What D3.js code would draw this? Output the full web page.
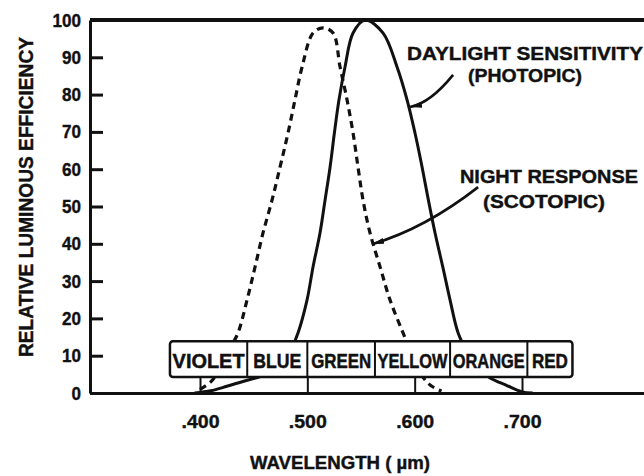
<!DOCTYPE html>
<html><head><meta charset="utf-8">
<script src="https://cdn.jsdelivr.net/npm/d3@7"></script>
<style>
body{margin:0;background:#fff}
text{font-family:"Liberation Sans",Arial,sans-serif;font-weight:bold;fill:#111;stroke:#111;stroke-width:0.4px}
</style>
</head><body>
<svg id="c" width="644" height="476"></svg>
<script>
// ---- data (wavelength in µm, relative luminous efficiency in %) ----
const photopicWl  = [0.395,0.410,0.425,0.440,0.456,0.470,0.482,0.4913,0.4997,0.5053,0.5118,0.5165,0.5212,0.5252,0.5295,0.5351,0.5426,0.5538,0.5706,0.5836,0.5929,0.6003,0.6069,0.6128,0.6190,0.6262,0.6330,0.6405,0.650,0.660,0.670,0.686,0.700,0.710];
const photopicVal = [0,0.6,1.8,3.1,4.4,6.5,10,16.1,24.9,33.8,42.9,51.7,60.6,69.7,78.6,87.4,96.5,100,96.5,87.4,78.6,69.7,60.6,51.7,42.9,33.8,24.9,16.1,10.5,6.5,4.1,2,0.3,0];
const scotopicWl  = [0.400,0.410,0.420,0.428,0.4354,0.4438,0.4513,0.4587,0.4671,0.4746,0.4820,0.4885,0.4951,0.5053,0.5146,0.5240,0.5305,0.5370,0.5426,0.5472,0.5519,0.5584,0.5678,0.5771,0.5892,0.598,0.606,0.615,0.625];
const scotopicVal = [1,3,7,12,16.1,24.9,33.8,42.9,51.7,60.6,69.7,78.6,87.4,96.5,97.9,96.5,87.4,78.6,69.7,60.6,51.7,42.9,33.8,24.9,16.1,10,5,2,0.5];
const bandNames = ["VIOLET","BLUE","GREEN","YELLOW","ORANGE","RED"];
const bandEdges = [0.372,0.444,0.500,0.563,0.633,0.705,0.747];
const xTicks = [0.4,0.5,0.6,0.7];
const yTicks = [0,10,20,30,40,50,60,70,80,90,100];
const yTitle = "RELATIVE LUMINOUS EFFICIENCY";
const xTitle = "WAVELENGTH ( µm)";
const photopicLabel = ["DAYLIGHT SENSITIVITY","(PHOTOPIC)"];
const scotopicLabel = ["NIGHT RESPONSE","(SCOTOPIC)"];

// ---- layout ----
const ink = "#111";
const svg = d3.select("#c");
const x = d3.scaleLinear().domain([0.4,0.7]).range([200,522]);
const y = d3.scaleLinear().domain([0,100]).range([393,20]);
const left = 90, right = 644;

svg.append("defs").append("marker")
  .attr("id","ah").attr("markerUnits","userSpaceOnUse")
  .attr("markerWidth",14).attr("markerHeight",10)
  .attr("refX",12).attr("refY",5).attr("orient","auto")
  .append("path").attr("d","M0,2 L12,5 L0,8 Z").attr("fill",ink);

const line = d3.line().x(d=>x(d[0])).y(d=>y(d[1])).curve(d3.curveCatmullRom.alpha(0.5));

// curves
svg.append("path").datum(d3.zip(photopicWl,photopicVal))
  .attr("d",line).attr("fill","none").attr("stroke",ink).attr("stroke-width",3);
svg.append("path").datum(d3.zip(scotopicWl,scotopicVal))
  .attr("d",line).attr("fill","none").attr("stroke",ink).attr("stroke-width",3.2)
  .attr("stroke-dasharray","7,5");

// colour band box
const bx0 = x(bandEdges[0]), bx1 = x(bandEdges[bandEdges.length-1]);
const by0 = y(13.9), by1 = y(4.3);
svg.append("rect").attr("x",bx0).attr("y",by0).attr("width",bx1-bx0).attr("height",by1-by0)
  .attr("rx",3).attr("fill","#fff").attr("stroke",ink).attr("stroke-width",2.5);
svg.selectAll(".div").data(bandEdges.slice(1,-1)).join("line")
  .attr("x1",d=>x(d)).attr("x2",d=>x(d)).attr("y1",by0).attr("y2",by1)
  .attr("stroke",ink).attr("stroke-width",2);
svg.selectAll(".band").data(bandNames).join("text")
  .attr("transform",(d,i)=>`translate(${(x(bandEdges[i])+x(bandEdges[i+1]))/2},${by1-9}) scale(1,1.25)`)
  .attr("text-anchor","middle").attr("font-size",16)
  .attr("textLength",(d,i)=>Math.min(d.length*12, x(bandEdges[i+1])-x(bandEdges[i])-5))
  .attr("lengthAdjust","spacingAndGlyphs")
  .text(d=>d);

// x axis
const xFull = x.copy().domain([x.invert(left),x.invert(right)]).range([left,right]);
const gx = svg.append("g").attr("transform",`translate(0,${y(0)})`)
  .call(d3.axisBottom(xFull).tickValues(xTicks).tickSize(-15).tickSizeOuter(0)
    .tickFormat(d=>d3.format(".3f")(d).slice(1)));
gx.select(".domain").attr("stroke",ink).attr("stroke-width",3);
gx.selectAll(".tick line").attr("stroke",ink).attr("stroke-width",2);
gx.selectAll(".tick text").attr("y",35).attr("dy",0).attr("fill",ink)
  .style("font-size","19px").attr("textLength",38).attr("lengthAdjust","spacingAndGlyphs");

// y axis
const gy = svg.append("g").attr("transform",`translate(${left},0)`)
  .call(d3.axisLeft(y).tickValues(yTicks).tickSize(-13).tickSizeOuter(0).tickPadding(9));
gy.select(".domain").attr("stroke",ink).attr("stroke-width",3);
gy.selectAll(".tick line").attr("stroke",ink).attr("stroke-width",3);
gy.selectAll(".tick text").attr("fill",ink).style("font-size","19px")
  .attr("textLength",d=>String(d).length*9.5).attr("lengthAdjust","spacingAndGlyphs");

// top border
svg.append("line").attr("x1",left).attr("x2",right).attr("y1",y(100)).attr("y2",y(100))
  .attr("stroke",ink).attr("stroke-width",4);

// titles
svg.append("text").attr("transform","translate(33,197) rotate(-90)")
  .attr("text-anchor","middle").attr("font-size",21)
  .attr("textLength",320).attr("lengthAdjust","spacingAndGlyphs").text(yTitle);
svg.append("text").attr("x",340).attr("y",469).attr("text-anchor","middle")
  .attr("font-size",18).attr("textLength",180).attr("lengthAdjust","spacingAndGlyphs").text(xTitle);

// annotations
function label(txt, cx, by, w){
  svg.append("text").attr("x",cx).attr("y",by).attr("text-anchor","middle")
    .attr("font-size",18).attr("textLength",w).attr("lengthAdjust","spacingAndGlyphs").text(txt);
}
label(photopicLabel[0],525,60,236);
label(photopicLabel[1],525,82,114);
label(scotopicLabel[0],549,183,178);
label(scotopicLabel[1],544,208,122);

function arrow(p0,c,p1){
  const p = d3.path();
  p.moveTo(x(p0[0]),y(p0[1]));
  p.quadraticCurveTo(x(c[0]),y(c[1]),x(p1[0]),y(p1[1]));
  svg.append("path").attr("d",p.toString()).attr("fill","none")
    .attr("stroke",ink).attr("stroke-width",2.6).attr("marker-end","url(#ah)");
}
arrow([0.6358,85.3],[0.6144,77.7],[0.5957,76.7]);
arrow([0.6591,55.2],[0.6097,44.1],[0.5603,39.9]);
</script>
</body></html>
